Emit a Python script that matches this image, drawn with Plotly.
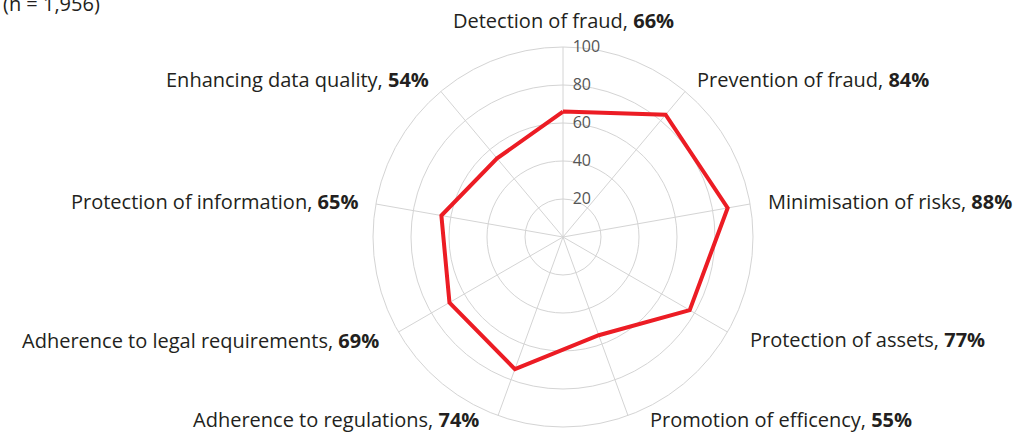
import math
import plotly.graph_objects as go

categories = [
    "Detection of fraud",
    "Prevention of fraud",
    "Minimisation of risks",
    "Protection of assets",
    "Promotion of efficency",
    "Adherence to regulations",
    "Adherence to legal requirements",
    "Protection of information",
    "Enhancing data quality",
]
values = [66, 84, 88, 77, 55, 74, 69, 65, 54]
radial_ticks = [20, 40, 60, 80, 100]

W, H = 1018, 434
cx, cy, R = 563, 237, 190
FONT = "Open Sans"
GRID = "#d4d4d4"

fig = go.Figure()
fig.add_trace(go.Scatterpolar(
    r=values + values[:1],
    theta=categories + categories[:1],
    mode="lines",
    line=dict(color="#ec1c24", width=4),
    hoverinfo="skip",
    showlegend=False,
))

annotations = []
n = len(categories)
for i, (c, v) in enumerate(zip(categories, values)):
    ang = math.radians(360 * i / n)
    s, co = math.sin(ang), math.cos(ang)
    if abs(s) < 0.05:
        px, py, xa = cx, cy - R - 27, "center"
    elif co < -0.45:
        rx, ry = cx + R * s, cy - R * co
        px = rx + (20 if s > 0 else -17)
        py = min(ry + 8, 419)
        xa = "left" if s > 0 else "right"
    else:
        d = 16
        px, py = cx + (R + d) * s, cy - (R + d) * co
        xa = "left" if s > 0 else "right"
    annotations.append(dict(
        text=f"{c}, <b>{v}%</b>", xref="paper", yref="paper",
        x=px / W, y=1 - py / H, xanchor=xa, yanchor="middle",
        showarrow=False, font=dict(size=20, color="#231f20", family=FONT),
    ))

annotations.append(dict(
    text="(n = 1,956)", xref="paper", yref="paper",
    x=102 / W, y=1 - 19 / H, xanchor="right", yanchor="bottom",
    showarrow=False, font=dict(size=20, color="#231f20", family=FONT),
))

fig.update_layout(
    width=W, height=H,
    margin=dict(l=0, r=0, t=0, b=0),
    paper_bgcolor="white",
    font=dict(family=FONT, color="#231f20", size=18),
    polar=dict(
        bgcolor="white",
        domain=dict(x=[(cx - R) / W, (cx + R) / W], y=[1 - (cy + R) / H, 1 - (cy - R) / H]),
        angularaxis=dict(
            rotation=90, direction="clockwise",
            tickmode="array", tickvals=categories, showticklabels=False,
            showline=True, linecolor=GRID, linewidth=1,
            ticks="", gridcolor=GRID, gridwidth=1,
        ),
        radialaxis=dict(
            range=[0, 100], angle=90, tickangle=90, side="clockwise",
            tickvals=radial_ticks, showline=False,
            ticks="outside", ticklen=6, tickcolor="rgba(0,0,0,0)",
            gridcolor=GRID, gridwidth=1,
            tickfont=dict(size=16, color="#555555"),
        ),
    ),
    annotations=annotations,
)

fig.write_html("out.html", config={"displayModeBar": False},
               post_script="document.body.style.margin='0';")
